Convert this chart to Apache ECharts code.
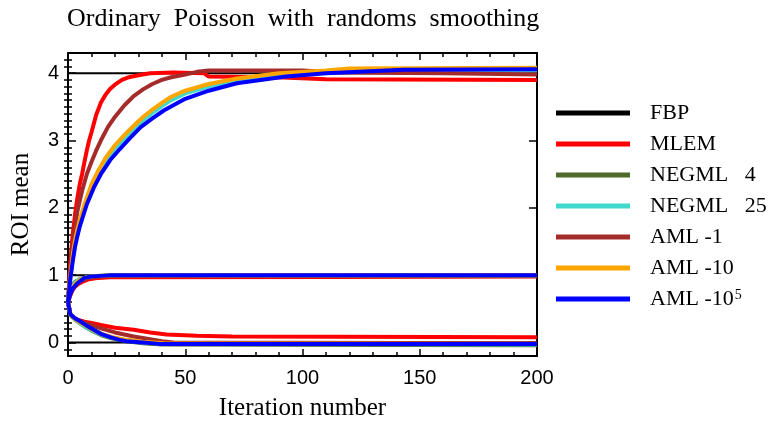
<!DOCTYPE html>
<html>
<head>
<meta charset="utf-8">
<script src="https://cdn.jsdelivr.net/npm/echarts@6/dist/echarts.min.js"></script>
<style>
  html, body { margin: 0; padding: 0; background: #fff; }
  #chart { width: 771px; height: 427px; }
</style>
</head>
<body>
<div id="chart"></div>
<script>
// [iteration, ROI mean]
const fbpHigh = [[0, 4], [200, 4]];
const fbpMid = [[0, 1], [200, 1]];
const fbpLow = [[0, 0], [200, 0]];

const mlemHigh = [[0, 0.6], [1, 1.2], [2, 1.6], [3, 1.9], [4, 2.15], [5, 2.35], [6, 2.5], [7, 2.68], [8, 2.85], [9, 3.0], [10, 3.12], [12, 3.38], [14, 3.56], [16, 3.68], [18, 3.77], [20, 3.83], [23, 3.9], [26, 3.94], [30, 3.97], [35, 4.0], [45, 4.01], [58, 4.0], [60, 3.95], [89, 3.94], [110, 3.91], [200, 3.9]];
const mlemMid = [[0, 0.6], [1, 0.7], [2, 0.78], [3, 0.83], [4, 0.86], [6, 0.9], [9, 0.94], [13, 0.96], [18, 0.97], [110, 0.975], [200, 0.98]];
const mlemLow = [[0, 0.6], [1, 0.42], [2, 0.38], [4, 0.34], [7, 0.31], [10, 0.29], [14, 0.26], [20, 0.22], [28, 0.19], [35, 0.15], [42, 0.12], [55, 0.1], [70, 0.09], [200, 0.08]];

const negml4High = [[0, 0.6], [1, 0.98], [2, 1.27], [3, 1.48], [4, 1.65], [5, 1.79], [7, 2.02], [10, 2.32], [13, 2.53], [16, 2.71], [20, 2.9], [24, 3.05], [28, 3.19], [32, 3.32], [36, 3.43], [40, 3.53], [44, 3.62], [50, 3.72], [60, 3.82], [72, 3.9], [90, 3.98], [110, 4.02], [140, 4.04], [200, 4.05]];
const negml4Mid = [[0, 0.6], [1, 0.78], [2, 0.86], [3, 0.9], [5, 0.94], [8, 0.97], [12, 0.98], [18, 0.99], [200, 0.99]];
const negml4Low = [[0, 0.6], [1, 0.41], [3, 0.34], [5, 0.29], [8, 0.22], [11, 0.16], [15, 0.1], [19, 0.06], [25, 0.02], [32, -0.01], [40, -0.03], [200, -0.04]];

const negml25High = [[0, 0.6], [1, 0.97], [2, 1.25], [3, 1.46], [4, 1.63], [5, 1.77], [7, 2.0], [10, 2.3], [13, 2.51], [16, 2.69], [20, 2.88], [24, 3.03], [28, 3.17], [32, 3.3], [36, 3.41], [40, 3.51], [44, 3.6], [50, 3.7], [60, 3.8], [72, 3.89], [90, 3.97], [110, 4.01], [140, 4.03], [200, 4.04]];
const negml25Mid = [[0, 0.6], [1, 0.76], [2, 0.84], [3, 0.89], [5, 0.94], [8, 0.97], [12, 0.99], [18, 1.0], [200, 1.0]];
const negml25Low = [[0, 0.6], [1, 0.41], [3, 0.34], [5, 0.29], [8, 0.22], [11, 0.17], [15, 0.11], [19, 0.07], [25, 0.03], [32, 0.0], [40, -0.02], [110, -0.02], [200, -0.03]];

const aml1High = [[0, 0.6], [1, 1.1], [2, 1.45], [3, 1.72], [4, 1.95], [5, 2.1], [6, 2.25], [8, 2.5], [10, 2.68], [12, 2.85], [14, 3.0], [17, 3.2], [20, 3.35], [24, 3.52], [28, 3.66], [32, 3.76], [36, 3.84], [40, 3.9], [44, 3.94], [50, 3.98], [55, 4.02], [60, 4.04], [100, 4.04], [115, 4.01], [160, 4.0], [200, 3.98]];
const aml1Mid = [[0, 0.6], [1, 0.72], [2, 0.8], [3, 0.85], [5, 0.91], [8, 0.95], [12, 0.98], [18, 0.99], [200, 1.0]];
const aml1Low = [[0, 0.6], [1, 0.42], [2, 0.38], [4, 0.33], [7, 0.29], [10, 0.26], [14, 0.21], [20, 0.15], [28, 0.09], [35, 0.05], [40, 0.02], [45, 0.0], [200, -0.01]];

const aml10High = [[0, 0.6], [1, 1.0], [2, 1.3], [3, 1.52], [4, 1.68], [5, 1.82], [7, 2.05], [10, 2.35], [13, 2.56], [16, 2.74], [20, 2.93], [24, 3.08], [28, 3.22], [32, 3.35], [36, 3.46], [40, 3.56], [44, 3.65], [50, 3.74], [60, 3.84], [72, 3.92], [90, 4.0], [110, 4.04], [120, 4.07], [200, 4.08]];
const aml10Mid = [[0, 0.6], [1, 0.74], [2, 0.82], [3, 0.87], [5, 0.93], [8, 0.97], [12, 0.99], [18, 1.0], [200, 1.0]];
const aml10Low = [[0, 0.6], [1, 0.42], [3, 0.35], [5, 0.3], [8, 0.24], [11, 0.18], [15, 0.12], [19, 0.08], [25, 0.04], [32, 0.01], [41, -0.01], [200, -0.02]];

const aml1e5High = [[0, 0.6], [1, 0.95], [2, 1.2], [3, 1.42], [4, 1.58], [5, 1.72], [8, 2.05], [11, 2.3], [14, 2.5], [18, 2.71], [22, 2.87], [26, 3.02], [31, 3.2], [36, 3.33], [41, 3.45], [50, 3.62], [60, 3.74], [72, 3.85], [93, 3.95], [110, 4.0], [143, 4.05], [200, 4.06]];
const aml1e5Mid = [[0, 0.6], [1, 0.72], [2, 0.8], [4, 0.88], [7, 0.96], [10, 0.98], [14, 0.99], [18, 1.0], [200, 1.0]];
const aml1e5Low = [[0, 0.6], [1, 0.42], [3, 0.36], [5, 0.32], [8, 0.25], [11, 0.19], [14, 0.13], [18, 0.08], [22, 0.04], [25, 0.02], [32, 0.0], [39, -0.02], [200, -0.02]];

const legendNames = ['FBP', 'MLEM', 'NEGML   4', 'NEGML   25', 'AML -1', 'AML -10', 'AML -10^5'];
const yTickValues = [0, 1, 2, 3, 4];
const xTickInterval = 50;

const methods = [
  { name: legendNames[0], color: '#000000', width: 2, curves: [fbpHigh, fbpMid, fbpLow] },
  { name: legendNames[1], color: '#ff0000', width: 4, curves: [mlemHigh, mlemMid, mlemLow] },
  { name: legendNames[2], color: '#4f6b2c', width: 4, curves: [negml4High, negml4Mid, negml4Low] },
  { name: legendNames[3], color: '#3fd8cc', width: 4, curves: [negml25High, negml25Mid, negml25Low] },
  { name: legendNames[4], color: '#a52a2a', width: 4, curves: [aml1High, aml1Mid, aml1Low] },
  { name: legendNames[5], color: '#ffa500', width: 4, curves: [aml10High, aml10Mid, aml10Low] },
  { name: legendNames[6], color: '#0000ff', width: 4, curves: [aml1e5High, aml1e5Mid, aml1e5Low] },
];

// minor ticks every 0.1 on the value axis
const yMinor = [];
for (let i = -1; i <= 42; i++) {
  if (i % 10 !== 0) yMinor.push(+(i / 10).toFixed(1));
}

const serif = 'Liberation Serif, Times New Roman, serif';
const sans = 'Liberation Sans, Arial, sans-serif';
const axisColor = '#000';

const chart = echarts.init(document.getElementById('chart'));

const series = [];
methods.forEach((m) => {
  m.curves.forEach((c) => {
    series.push({
      name: m.name,
      type: 'line',
      data: c,
      xAxisIndex: 0,
      yAxisIndex: 0,
      showSymbol: false,
      symbol: 'none',
      lineStyle: { color: m.color, width: m.width },
      itemStyle: { color: m.color },
      emphasis: { disabled: true },
    });
  });
});

const baseY = {
  type: 'value',
  min: -0.2,
  max: 4.3,
  splitLine: { show: false },
};

chart.setOption({
  animation: false,
  backgroundColor: '#fff',
  title: {
    text: 'Ordinary  Poisson  with  randoms  smoothing',
    left: 62,
    top: 1,
    textStyle: { fontFamily: serif, fontSize: 26, fontWeight: 'normal', color: '#000' },
  },
  grid: { left: 68, right: 234, top: 53, bottom: 71 },
  legend: {
    orient: 'vertical',
    left: 551,
    top: 97,
    icon: 'rect',
    itemWidth: 74,
    itemHeight: 5,
    itemGap: 9,
    data: legendNames,
    formatter: (name) => name === 'AML -10^5' ? 'AML -10{sup|5}' : name,
    textStyle: {
      fontFamily: serif,
      fontSize: 22,
      lineHeight: 22,
      color: '#000',
      padding: [0, 0, 0, 15],
      rich: {
        sup: { fontFamily: serif, fontSize: 14, verticalAlign: 'top', lineHeight: 22, padding: [0, 0, 8, 1] },
      },
    },
  },
  xAxis: [
    {
      type: 'value',
      min: 0,
      max: 200,
      interval: xTickInterval,
      position: 'bottom',
      name: 'Iteration number',
      nameLocation: 'middle',
      nameGap: 40,
      nameTextStyle: { fontFamily: serif, fontSize: 25, color: '#000' },
      axisLine: { show: true, onZero: false, lineStyle: { color: axisColor, width: 2 } },
      axisTick: { inside: true, length: 7, lineStyle: { color: axisColor, width: 1.5 } },
      minorTick: { show: true, splitNumber: 5, length: 4, lineStyle: { color: axisColor, width: 1.5 } },
      axisLabel: { fontFamily: sans, fontSize: 20, color: '#000', margin: 12 },
      splitLine: { show: false },
      minorSplitLine: { show: false },
    },
    {
      type: 'value',
      min: 0,
      max: 200,
      interval: xTickInterval,
      position: 'top',
      axisLine: { show: true, onZero: false, lineStyle: { color: axisColor, width: 2 } },
      axisTick: { inside: true, length: 7, lineStyle: { color: axisColor, width: 1.5 } },
      minorTick: { show: true, splitNumber: 5, length: 4, lineStyle: { color: axisColor, width: 1.5 } },
      axisLabel: { show: false },
      splitLine: { show: false },
    },
  ],
  yAxis: [
    {
      ...baseY,
      position: 'left',
      name: 'ROI mean',
      nameLocation: 'middle',
      nameGap: 34,
      nameTextStyle: { fontFamily: serif, fontSize: 25, color: '#000' },
      axisLine: { show: true, onZero: false, lineStyle: { color: axisColor, width: 2 } },
      axisTick: { inside: true, length: 8, customValues: yTickValues, lineStyle: { color: axisColor, width: 1.5 } },
      axisLabel: { customValues: yTickValues, fontFamily: sans, fontSize: 20, color: '#000', margin: 9 },
    },
    {
      ...baseY,
      position: 'right',
      axisLine: { show: true, onZero: false, lineStyle: { color: axisColor, width: 2 } },
      axisTick: { inside: true, length: 8, customValues: yTickValues, lineStyle: { color: axisColor, width: 1.5 } },
      axisLabel: { show: false },
    },
    {
      ...baseY,
      position: 'left',
      axisLine: { show: false },
      axisTick: { inside: true, length: 4, customValues: yMinor, lineStyle: { color: axisColor, width: 1.5 } },
      axisLabel: { show: false },
    },
    {
      ...baseY,
      position: 'right',
      axisLine: { show: false },
      axisTick: { inside: true, length: 4, customValues: yMinor, lineStyle: { color: axisColor, width: 1.5 } },
      axisLabel: { show: false },
    },
  ],
  series: series,
});
</script>
</body>
</html>
